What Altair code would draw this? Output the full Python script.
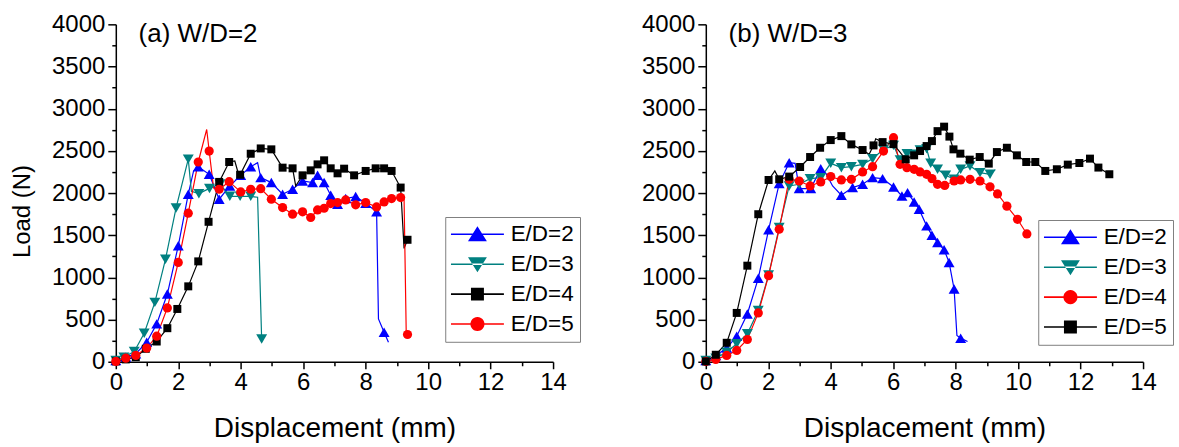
import math
import altair as alt
import pandas as pd

# ---------------- data: (a) W/D=2 ----------------
a_ed2_x = [0, 0.32, 0.64, 0.99, 1.31, 1.65, 2.0, 2.32, 2.49, 2.64, 2.99, 3.31, 3.65, 4.0, 4.32, 4.54, 4.64,
           4.98, 5.34, 5.66, 5.98, 6.30, 6.46, 6.67, 6.88, 7.10, 7.36, 7.68, 8.0, 8.35, 8.41, 8.59, 8.73]
a_ed2_y = [16, 55, 95, 232, 449, 803, 1375, 1986, 2262, 2313, 2222, 1927, 2084, 2210, 2313, 2360, 2183,
           2124, 1986, 2045, 2143, 2124, 2210, 2124, 1974, 1868, 1935, 1958, 1879, 1777, 508, 351, 232]
a_ed2_line_only = [2.49, 4.54, 8.41, 8.73]

a_ed3_x = [0, 0.26, 0.59, 0.91, 1.25, 1.59, 1.93, 2.32, 2.42, 2.66, 3.0, 3.34, 3.65, 3.98, 4.32, 4.54, 4.67]
a_ed3_y = [15, 55, 121, 338, 704, 1215, 1824, 2402, 2020, 1993, 2055, 2107, 1961, 1961, 1961, 1950, 271]
a_ed3_line_only = [2.42, 4.54]

a_ed4_x = [0, 0.32, 0.64, 0.96, 1.31, 1.65, 1.97, 2.32, 2.64, 2.97, 3.31, 3.63, 3.81, 3.90, 3.98, 4.32,
           4.64, 4.98, 5.34, 5.66, 5.76, 5.98, 6.24, 6.46, 6.67, 6.88, 7.10, 7.31, 7.63, 8.0, 8.32, 8.59,
           8.83, 9.12, 9.23, 9.34]
a_ed4_y = [4, 28, 55, 154, 240, 398, 626, 894, 1190, 1659, 2132, 2368, 2380, 2262, 2217, 2466,
           2529, 2518, 2301, 2293, 2084, 2210, 2269, 2340, 2388, 2293, 2234, 2289, 2210, 2262, 2293, 2293,
           2262, 2065, 1344, 1446]
a_ed4_line_only = [3.81, 3.90, 5.76, 9.23]

a_ed5_x = [0, 0.32, 0.64, 0.99, 1.31, 1.65, 2.0, 2.32, 2.64, 2.91, 2.99, 3.13, 3.31, 3.63, 4.0, 4.32,
           4.64, 4.98, 5.34, 5.66, 5.98, 6.24, 6.46, 6.67, 6.88, 7.10, 7.36, 7.68, 8.0, 8.35, 8.59, 8.83,
           9.12, 9.23, 9.30, 9.34]
a_ed5_y = [4, 43, 75, 162, 303, 638, 1178, 1761, 2368, 2754, 2498, 2060, 2045, 2135, 2013, 2045,
           2052, 1927, 1828, 1749, 1777, 1710, 1800, 1820, 1875, 1887, 1919, 1860, 1887, 1836, 1895, 1935,
           1946, 1926, 311, 323]
a_ed5_line_only = [2.91, 3.13, 9.23, 9.30]

# ---------------- data: (b) W/D=3 ----------------
b_ed2_x = [0, 0.32, 0.67, 0.99, 1.33, 1.68, 2.01, 2.35, 2.67, 2.86, 2.99, 3.36, 3.68, 3.85, 4.06, 4.34,
           4.70, 5.02, 5.34, 5.66, 6.01, 6.28, 6.46, 6.67, 6.83, 7.07, 7.24, 7.42, 7.63, 7.79, 7.95, 8.04,
           8.16, 8.38]
b_ed2_y = [16, 75, 162, 303, 567, 989, 1564, 2112, 2360, 2352, 2053, 2053, 2289, 2230, 2084, 1974,
           2065, 2104, 2183, 2171, 2072, 1966, 2005, 1895, 1808, 1611, 1501, 1414, 1328, 1178, 863, 311,
           280, 240]
b_ed2_line_only = [2.86, 3.85, 4.06, 8.04, 8.38]

b_ed3_x = [0, 0.32, 0.67, 0.99, 1.33, 1.68, 2.01, 2.35, 2.67, 2.99, 3.34, 3.68, 4.0, 4.34, 4.66, 5.02,
           5.34, 5.69, 6.01, 6.22, 6.44, 6.67, 6.86, 7.07, 7.20, 7.42, 7.68, 7.95, 8.16, 8.46, 8.78, 9.10,
           9.27]
b_ed3_y = [16, 43, 114, 213, 331, 607, 1028, 1592, 2084, 2104, 2171, 2183, 2352, 2301, 2313, 2340,
           2407, 2518, 2565, 2392, 2466, 2459, 2510, 2525, 2352, 2281, 2210, 2163, 2281, 2321, 2242, 2222,
           2278]
b_ed3_line_only = [9.27]

b_ed4_x = [0, 0.32, 0.67, 0.99, 1.33, 1.68, 2.01, 2.35, 2.67, 2.99, 3.34, 3.68, 4.0, 4.34, 4.66, 5.02,
           5.34, 5.69, 6.01, 6.22, 6.44, 6.67, 6.86, 7.07, 7.24, 7.42, 7.65, 7.95, 8.16, 8.46, 8.78, 9.10,
           9.34, 9.64, 9.98, 10.28]
b_ed4_y = [4, 28, 75, 134, 264, 579, 1020, 1572, 2163, 2143, 2084, 2132, 2195, 2155, 2163, 2250,
           2313, 2498, 2656, 2340, 2301, 2281, 2250, 2222, 2171, 2104, 2090, 2143, 2155, 2163, 2143, 2074,
           1990, 1845, 1689, 1515]
b_ed4_line_only = []

b_ed5_x = [0, 0.32, 0.67, 0.99, 1.33, 1.68, 2.01, 2.21, 2.35, 2.67, 3.02, 3.34, 3.66, 4.0, 4.34, 4.66,
           5.02, 5.23, 5.37, 5.44, 5.66, 6.01, 6.40, 6.67, 6.86, 7.07, 7.24, 7.42, 7.63, 7.80, 7.93, 8.15,
           8.45, 8.77, 9.06, 9.32, 9.64, 9.96, 10.26, 10.55, 10.87, 11.24, 11.59, 11.96, 12.30, 12.57,
           12.92]
b_ed5_y = [4, 83, 225, 579, 1139, 1749, 2155, 2262, 2163, 2195, 2309, 2427, 2537, 2628, 2675, 2577,
           2510, 2459, 2565, 2644, 2604, 2580, 2400, 2447, 2498, 2557, 2616, 2734, 2787, 2669, 2518, 2467,
           2396, 2427, 2349, 2486, 2537, 2447, 2368, 2368, 2262, 2282, 2337, 2356, 2408, 2302, 2223]
b_ed5_line_only = [5.23, 5.44, 2.21]

series_names = ["E/D=2", "E/D=3", "E/D=4", "E/D=5"]
panel_labels = ["(a) W/D=2", "(b) W/D=3"]
x_ticks = list(range(0, 15))
y_ticks = list(range(0, 4001, 250))

# where the panel label sits, in data units (top-left corner of each panel)
LABEL_X, LABEL_Y = 0.73, 3790

FONT = "Liberation Sans"
BLUE, TEAL, BLACK, RED = "#0000ff", "#008080", "#000000", "#ff0000"

# legend glyphs: a line segment with the marker in its middle (unit = 11 px)
LINE = "M-2.41,-0.07H2.41V0.07H-2.41Z"
TRI_UP = "M0,-0.73L0.86,0.64L-0.86,0.64Z"
TRI_DOWN = "M0,0.73L0.86,-0.64L-0.86,-0.64Z"
SQUARE = "M-0.59,-0.59H0.59V0.59H-0.59Z"
CIRCLE = "M" + "L".join(
    f"{0.64 * math.cos(2 * math.pi * k / 24):.3f},{0.64 * math.sin(2 * math.pi * k / 24):.3f}"
    for k in range(24)) + "Z"


def make_df(items):
    rows = []
    for name, xs, ys, line_only in items:
        for i, (x, y) in enumerate(zip(xs, ys)):
            rows.append({"series": name, "x": x, "y": y, "idx": i, "marker": x not in line_only})
    return pd.DataFrame(rows)


df_a = make_df([
    ("E/D=2", a_ed2_x, a_ed2_y, a_ed2_line_only),
    ("E/D=3", a_ed3_x, a_ed3_y, a_ed3_line_only),
    ("E/D=4", a_ed4_x, a_ed4_y, a_ed4_line_only),
    ("E/D=5", a_ed5_x, a_ed5_y, a_ed5_line_only),
])
df_b = make_df([
    ("E/D=2", b_ed2_x, b_ed2_y, b_ed2_line_only),
    ("E/D=3", b_ed3_x, b_ed3_y, b_ed3_line_only),
    ("E/D=4", b_ed4_x, b_ed4_y, b_ed4_line_only),
    ("E/D=5", b_ed5_x, b_ed5_y, b_ed5_line_only),
])


def panel(df, colors, shapes, sizes, leg_shapes, label, ytitle, lx, ly):
    x_axis = alt.Axis(
        values=x_ticks,
        labelExpr="datum.value % 2 == 0 ? datum.label : ''",
        title="Displacement (mm)",
        titleFontSize=28,
        titlePadding=20,
        labelPadding=2,
        tickSize={"condition": {"test": "datum.value % 2 == 0", "value": 7}, "value": 4},
    )
    y_kwargs = dict(
        values=y_ticks,
        format="d",
        labelExpr="datum.value % 500 == 0 ? datum.label : ''",
        titleFontSize=24,
        titlePadding=17,
        labelPadding=3,
        tickSize={"condition": {"test": "datum.value % 500 == 0", "value": 8}, "value": 4},
    )
    if ytitle:
        y_axis = alt.Axis(title=ytitle, titleY=187, **y_kwargs)
    else:
        y_axis = alt.Axis(title=None, **y_kwargs)
    enc = dict(
        x=alt.X("x:Q", scale=alt.Scale(domain=[0, 14], nice=False, zero=False), axis=x_axis),
        y=alt.Y("y:Q", scale=alt.Scale(domain=[0, 4000], nice=False), axis=y_axis),
    )
    base = alt.Chart(df)
    layers = []
    for s, c in zip(series_names, colors):
        layers.append(
            base.transform_filter(alt.datum.series == s)
            .mark_line(color=c, strokeWidth=1.2)
            .encode(**enc, order="idx:Q")
        )
    for s, c, sh, sz in zip(series_names, colors, shapes, sizes):
        layers.append(
            base.transform_filter((alt.datum.series == s) & alt.datum.marker)
            .mark_point(filled=True, shape=sh, size=sz, color=c, opacity=1)
            .encode(**enc)
        )
    leg = alt.Legend(
        type="symbol", title=None, orient="none", legendX=lx, legendY=ly,
        labelFont=FONT, labelFontSize=22.5, labelColor="black",
        symbolSize=484, symbolStrokeWidth=0, symbolOpacity=1,
        symbolOffset=15, labelOffset=22, rowPadding=7, padding=6,
        strokeColor="#808080", fillColor="white",
    )
    # invisible marks (one per series) that only carry the legend
    legend_layer = base.transform_filter("datum.idx == 0").mark_point(filled=True, opacity=0).encode(
        **enc,
        fill=alt.Fill("series:N", scale=alt.Scale(domain=series_names, range=colors), legend=leg),
        shape=alt.Shape("series:N", scale=alt.Scale(domain=series_names, range=leg_shapes), legend=leg),
    )
    layers.append(legend_layer)
    text_df = pd.DataFrame({"label": [label], "x": [LABEL_X], "y": [LABEL_Y]})
    label_layer = alt.Chart(text_df).mark_text(
        align="left", baseline="alphabetic", font=FONT, fontSize=26, color="black"
    ).encode(**enc, text="label:N")
    layers.append(label_layer)
    return alt.layer(*layers).properties(width=438, height=338)


left = panel(
    df_a,
    [BLUE, TEAL, BLACK, RED],
    ["triangle-up", "triangle-down", "square", "circle"],
    [120, 120, 64, 85],
    [LINE + TRI_UP, LINE + TRI_DOWN, LINE + SQUARE, LINE + CIRCLE],
    panel_labels[0], "Load (N)", 330, 193,
)
right = panel(
    df_b,
    [BLUE, TEAL, RED, BLACK],
    ["triangle-up", "triangle-down", "circle", "square"],
    [120, 120, 85, 64],
    [LINE + TRI_UP, LINE + TRI_DOWN, LINE + CIRCLE, LINE + SQUARE],
    panel_labels[1], None, 333, 196,
)

chart = (
    alt.hconcat(left, right, spacing=60)
    .resolve_scale(fill="independent", shape="independent")
    .properties(padding={"left": 10, "top": 12, "right": 5, "bottom": 2})
    .configure_view(strokeWidth=0)
    .configure_axis(
        domainColor="black", domainWidth=1.5, tickColor="black", tickWidth=1.5,
        labelFont=FONT, labelFontSize=24, labelColor="black",
        titleFont=FONT, titleFontWeight="normal", titleColor="black",
        grid=False, labelFlush=False, labelOverlap=False,
    )
)

chart.save("out.html", embed_options={"renderer": "svg", "actions": False})
